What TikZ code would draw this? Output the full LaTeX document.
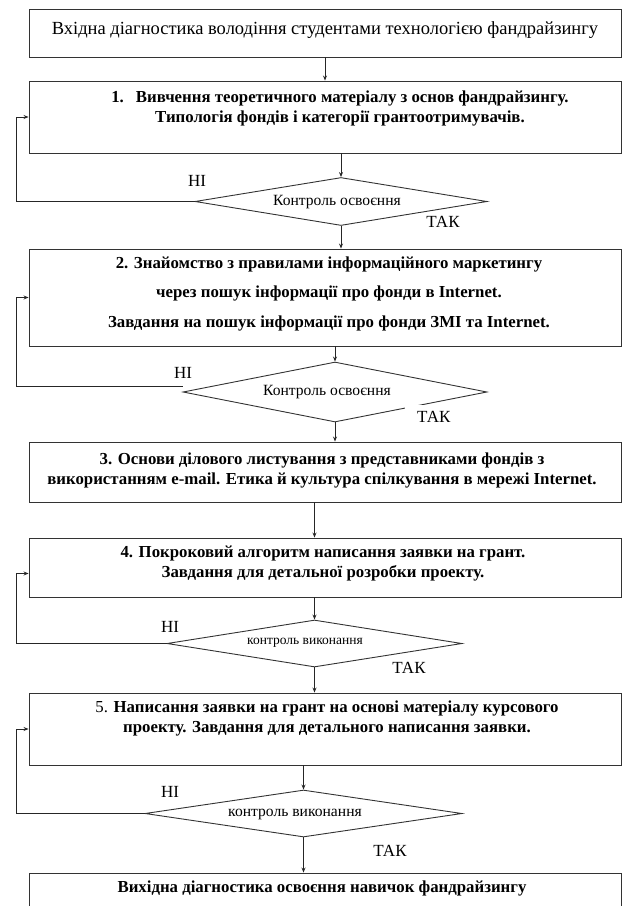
\documentclass[tikz,border=0pt]{standalone}
\usepackage{fontspec}
\setmainfont{Liberation Serif}
\usetikzlibrary{shapes.geometric,arrows.meta}
\tikzset{
  boxnode/.style={draw=black!80, line width=0.9pt, rectangle, inner sep=0pt, minimum width=592pt},
  dnode/.style={draw=black!80, line width=0.9pt, diamond, inner sep=0pt},
  btext/.style={font=\bfseries\fontsize{16.8}{20}\selectfont, align=center, inner sep=0pt},
  dtext/.style={font=\fontsize{15.6}{17}\selectfont, inner sep=0pt},
  lbl/.style={font=\fontsize{17}{19}\selectfont, inner sep=0pt},
  arr/.style={draw=black!85, line width=0.9pt, -{Stealth[length=5pt,width=4pt]}},
  ln/.style={draw=black!85, line width=0.9pt}
}
\begin{document}
\begin{tikzpicture}[x=1pt,y=-1pt]
\useasboundingbox (0,0) rectangle (636,906);
\coordinate (fb) at (16,0);
% boxes
\node[boxnode, minimum height=48pt] (b0) at (325,33) {};
\node[boxnode, minimum height=72pt] (b1) at (325,117) {};
\node[boxnode, minimum height=97pt] (b2) at (325,297.5) {};
\node[boxnode, minimum height=60pt] (b3) at (325,472) {};
\node[boxnode, minimum height=59pt] (b4) at (325,567.5) {};
\node[boxnode, minimum height=72pt] (b5) at (325,729) {};
\node[boxnode, minimum height=60pt] (b6) at (325,903) {};
% box texts
\node[font=\fontsize{18.5}{21}\selectfont, inner sep=0pt] (t0) at (325,30) {Вхідна діагностика володіння студентами технологією фандрайзингу};
\node[btext] (t1) at (340,108) {1.\hspace{12pt}Вивчення теоретичного матеріалу з основ фандрайзингу.\\Типологія фондів і категорії грантоотримувачів.};
\node[btext, font=\bfseries\fontsize{16.8}{29.5}\selectfont] (t2) at (329,293.5) {2. Знайомство з правилами інформаційного маркетингу\\через пошук інформації про фонди в Internet.\\Завдання на пошук інформації про фонди ЗМІ та Internet.};
\node[btext] (t3) at (322,470) {3. Основи ділового листування з представниками фондів з\\використанням e-mail. Етика й культура спілкування в мережі Internet.};
\node[btext] (t4) at (323,564) {4. Покроковий алгоритм написання заявки на грант.\\Завдання для детальної розробки проекту.};
\node[btext] (t5) at (327,718.5) {{\mdseries 5.} Написання заявки на грант на основі матеріалу курсового\\проекту. Завдання для детального написання заявки.};
\node[btext] (t6) at (322,888) {Вихідна діагностика освоєння навичок фандрайзингу};
% diamonds
\node[dnode, minimum width=292pt, minimum height=48pt] (d1) at (341,201.5) {};
\node[dnode, minimum width=304pt, minimum height=60pt] (d2) at (335,392) {};
\node[dnode, minimum width=295pt, minimum height=47pt] (d3) at (314.5,643.5) {};
\node[dnode, minimum width=317pt, minimum height=47pt] (d4) at (303.5,813.5) {};
\node[dtext] (dt1) at (337,202) {Контроль освоєння};
\node[dtext] (dt2) at (327,392) {Контроль освоєння};
\node[dtext, font=\fontsize{13.5}{15}\selectfont] (dt3) at (305,643) {контроль виконання};
\node[dtext] (dt4) at (295,814) {контроль виконання};
% labels
\node[lbl] (n1) at (197,181) {НІ};
\node[lbl] (n2) at (183,373) {НІ};
\node[lbl] (n3) at (170,627) {НІ};
\node[lbl] (n4) at (170,792) {НІ};
\node[lbl] (y1) at (443,222) {ТАК};
\node[lbl, fill=white, anchor=north west, inner xsep=12pt, inner ysep=6pt] (y2) at (405,405) {ТАК};
\node[lbl] (y3) at (409,668) {ТАК};
\node[lbl] (y4) at (390,851) {ТАК};
% connectors
\draw[arr] (b0.south) -- (b1.north);
\draw[arr] (d1.north |- b1.south) -- (d1.north);
\draw[arr] (d1.south) -- (d1.south |- b2.north);
\draw[arr] (d2.north |- b2.south) -- (d2.north);
\draw[arr] (d2.south) -- (d2.south |- b3.north);
\draw[arr] (d3.north |- b3.south) -- (d3.north |- b4.north);
\draw[arr] (d3.north |- b4.south) -- (d3.north);
\draw[arr] (d3.south) -- (d3.south |- b5.north);
\draw[arr] (d4.north |- b5.south) -- (d4.north);
\draw[arr] (d4.south) -- (d4.south |- b6.north);
% feedback loops
\draw[arr] (d1.west) -- (d1.west -| fb) |- (b1.west);
\draw[arr] ([yshift=6pt]d2.west) -- ([yshift=6pt]d2.west -| fb) |- (b2.west);
\draw[arr] (d3.west) -- (d3.west -| fb) |- ([yshift=-6pt]b4.west);
\draw[arr] (d4.west) -- (d4.west -| fb) |- (b5.west);
\end{tikzpicture}
\end{document}
